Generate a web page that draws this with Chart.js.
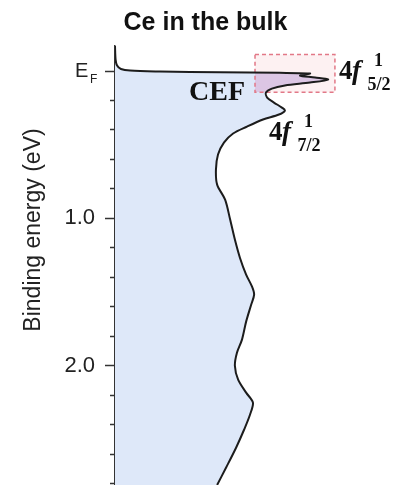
<!DOCTYPE html>
<html>
<head>
<meta charset="utf-8">
<title>Ce in the bulk</title>
<script src="https://cdn.jsdelivr.net/npm/chart.js@4.4.1/dist/chart.umd.min.js"></script>
<style>
  html, body { margin: 0; padding: 0; background: #fff; }
  #wrap { width: 411px; height: 485px; position: relative; }
</style>
</head>
<body>
<div id="wrap"><canvas id="ce-bulk-chart"></canvas></div>
<script>
// Ce spectrum, binding energy in eV (E_F = 0 at the top), intensity in arb. units
let bindingEnergy = [-0.17, -0.078, -0.037, -0.014, -0.003, 0.003, 0.009, 0.012, 0.017, 0.031,
    0.044, 0.058, 0.078, 0.098, 0.119, 0.146, 0.180, 0.214, 0.248, 0.268,
    0.295, 0.329, 0.377, 0.424, 0.486, 0.567, 0.669, 0.771, 0.873, 1.008,
    1.144, 1.267, 1.382, 1.464, 1.518, 1.586, 1.701, 1.823, 1.912, 2.0,
    2.095, 2.183, 2.251, 2.333, 2.435, 2.557, 2.693, 2.81]
let intensity = [0, 0.2, 0.7, 2.0, 5.1, 15.2, 35.5, 55.7, 65.9, 62.5,
    67.6, 72.0, 65.9, 57.4, 53.0, 51.0, 51.4, 53.7, 56.4, 57.4,
    55.4, 50.0, 44.6, 39.9, 36.8, 34.8, 34.1, 34.5, 37.2, 38.9,
    40.5, 42.2, 44.3, 46.3, 47.0, 46.0, 44.3, 42.9, 41.2, 40.5,
    41.6, 44.3, 46.6, 45.6, 43.6, 40.9, 37.5, 34.5]

// piece of the spectrum inside the CEF box (shaded pink)
let cefEnergy = [0.011, 0.012, 0.017, 0.031, 0.044, 0.058, 0.078, 0.098, 0.119, 0.144]
let cefIntensity = [47.3, 55.7, 65.9, 62.5, 67.6, 72.0, 65.9, 57.4, 53.0, 51.3]
let cefBase = 47.3

// energy axis
let energyMin = -0.17
let energyMax = 2.81
let energyStep = 0.2
let majorLabels = { 0: 'E\u2004', 1: '1.0', 2: '2.0' }

Chart.defaults.font.family = '"Liberation Sans", Arial, sans-serif'

function isMajor(v) {
    return Math.abs(v - Math.round(v)) < 1e-6
}

function drawPeakLabel(ctx, x, y, sub) {
    ctx.fillStyle = '#111'
    ctx.textAlign = 'left'
    ctx.textBaseline = 'alphabetic'
    ctx.font = 'bold 27px "Liberation Serif"'
    ctx.fillText('4', x, y)
    ctx.font = 'italic bold 27px "Liberation Serif"'
    ctx.fillText('f', x + 13, y)
    ctx.font = 'bold 18px "Liberation Serif"'
    ctx.fillText('1', x + 35, y - 13)
    ctx.fillText(sub, x + 28.5, y + 11)
}

// dashed CEF box, labels and the rotated axis title
let annotations = {
    id: 'annotations',
    beforeDraw(chart) {
        let { ctx, scales: { x, y } } = chart
        let left = x.getPixelForValue(47.3), right = x.getPixelForValue(74.3)
        let top = y.getPixelForValue(-0.112), bottom = y.getPixelForValue(0.144)
        ctx.save()
        ctx.fillStyle = 'rgba(248, 215, 218, 0.35)'
        ctx.fillRect(left, top, right - left, bottom - top)
        ctx.restore()
    },
    beforeDatasetsDraw(chart) {
        let { ctx, scales: { x, y } } = chart
        let left = x.getPixelForValue(47.3), right = x.getPixelForValue(74.3)
        let top = y.getPixelForValue(-0.112), bottom = y.getPixelForValue(0.144)
        ctx.save()
        ctx.strokeStyle = 'rgb(226, 120, 135)'
        ctx.lineWidth = 1.5
        ctx.setLineDash([4, 3])
        ctx.strokeRect(left, top, right - left, bottom - top)
        ctx.restore()
    },
    afterDraw(chart) {
        let { ctx, chartArea, scales: { x, y } } = chart
        ctx.save()

        // subscript F of E_F
        ctx.fillStyle = '#222'
        ctx.font = '12px "Liberation Sans"'
        ctx.textAlign = 'left'
        ctx.textBaseline = 'alphabetic'
        ctx.fillText('F', chartArea.left - 25, y.getPixelForValue(0) + 12)

        // CEF
        ctx.fillStyle = '#111'
        ctx.font = 'bold 28px "Liberation Serif"'
        ctx.textAlign = 'center'
        ctx.fillText('CEF', x.getPixelForValue(34.5), y.getPixelForValue(0.194))

        drawPeakLabel(ctx, x.getPixelForValue(75.7), y.getPixelForValue(0.054), '5/2')
        drawPeakLabel(ctx, x.getPixelForValue(52.0), y.getPixelForValue(0.465), '7/2')

        // axis title
        ctx.translate(chartArea.left - 81, chartArea.top + 184)
        ctx.rotate(-Math.PI / 2)
        ctx.fillStyle = '#222'
        ctx.font = '23px "Liberation Sans"'
        ctx.textAlign = 'center'
        ctx.textBaseline = 'middle'
        ctx.fillText('Binding energy (eV)', 0, 0)
        ctx.restore()
    }
}

let chartCanvas = document.querySelector('#ce-bulk-chart')
let ctx = chartCanvas.getContext('2d')

let ceChart = new Chart(ctx, {
    type: 'line',
    data: {
        datasets: [
            {
                data: bindingEnergy.map((e, i) => ({ x: intensity[i], y: e })),
                borderColor: '#1c1c1c',
                borderWidth: 2,
                backgroundColor: 'rgb(222, 232, 249)',
                fill: 'origin',
                pointRadius: 0,
                tension: 0.3,
                order: 1
            },
            {
                data: cefEnergy.map((e, i) => ({ x: cefIntensity[i], y: e })),
                borderColor: 'rgba(0, 0, 0, 0)',
                borderWidth: 0,
                backgroundColor: 'rgb(220, 198, 228)',
                fill: { value: cefBase },
                pointRadius: 0,
                tension: 0.3,
                order: 0
            }
        ]
    },
    options: {
        indexAxis: 'y',
        responsive: true,
        maintainAspectRatio: false,
        animation: false,
        events: [],
        layout: { padding: 0 },
        plugins: {
            legend: { display: false },
            tooltip: { enabled: false },
            filler: { drawTime: 'beforeDatasetsDraw' },
            title: {
                display: true,
                text: 'Ce in the bulk',
                color: '#111',
                font: { size: 25, weight: 'bold' },
                padding: { top: 8, bottom: 8 }
            }
        },
        scales: {
            x: { type: 'linear', display: false, min: 0, max: 100 },
            y: {
                type: 'linear',
                reverse: true,
                min: energyMin,
                max: energyMax,
                afterFit: function (scale) {
                    scale.width = 115
                    scale.paddingTop = 0
                    scale.paddingBottom = 0
                },
                border: { color: '#333', width: 1.5 },
                grid: {
                    drawOnChartArea: false,
                    tickLength: 10,
                    tickColor: '#333',
                    tickWidth: 1.5,
                    tickBorderDash: c => isMajor(c.tick.value) ? [] : [0, 5, 6]   // minor ticks half length
                },
                ticks: {
                    stepSize: energyStep,
                    includeBounds: false,
                    autoSkip: false,
                    padding: 10,
                    color: '#222',
                    font: c => ({ size: c.tick && c.tick.value === 0 ? 20 : 22 }),
                    callback: v => isMajor(v) ? majorLabels[Math.round(v)] : ''
                }
            }
        }
    },
    plugins: [annotations]
})
</script>
</body>
</html>
